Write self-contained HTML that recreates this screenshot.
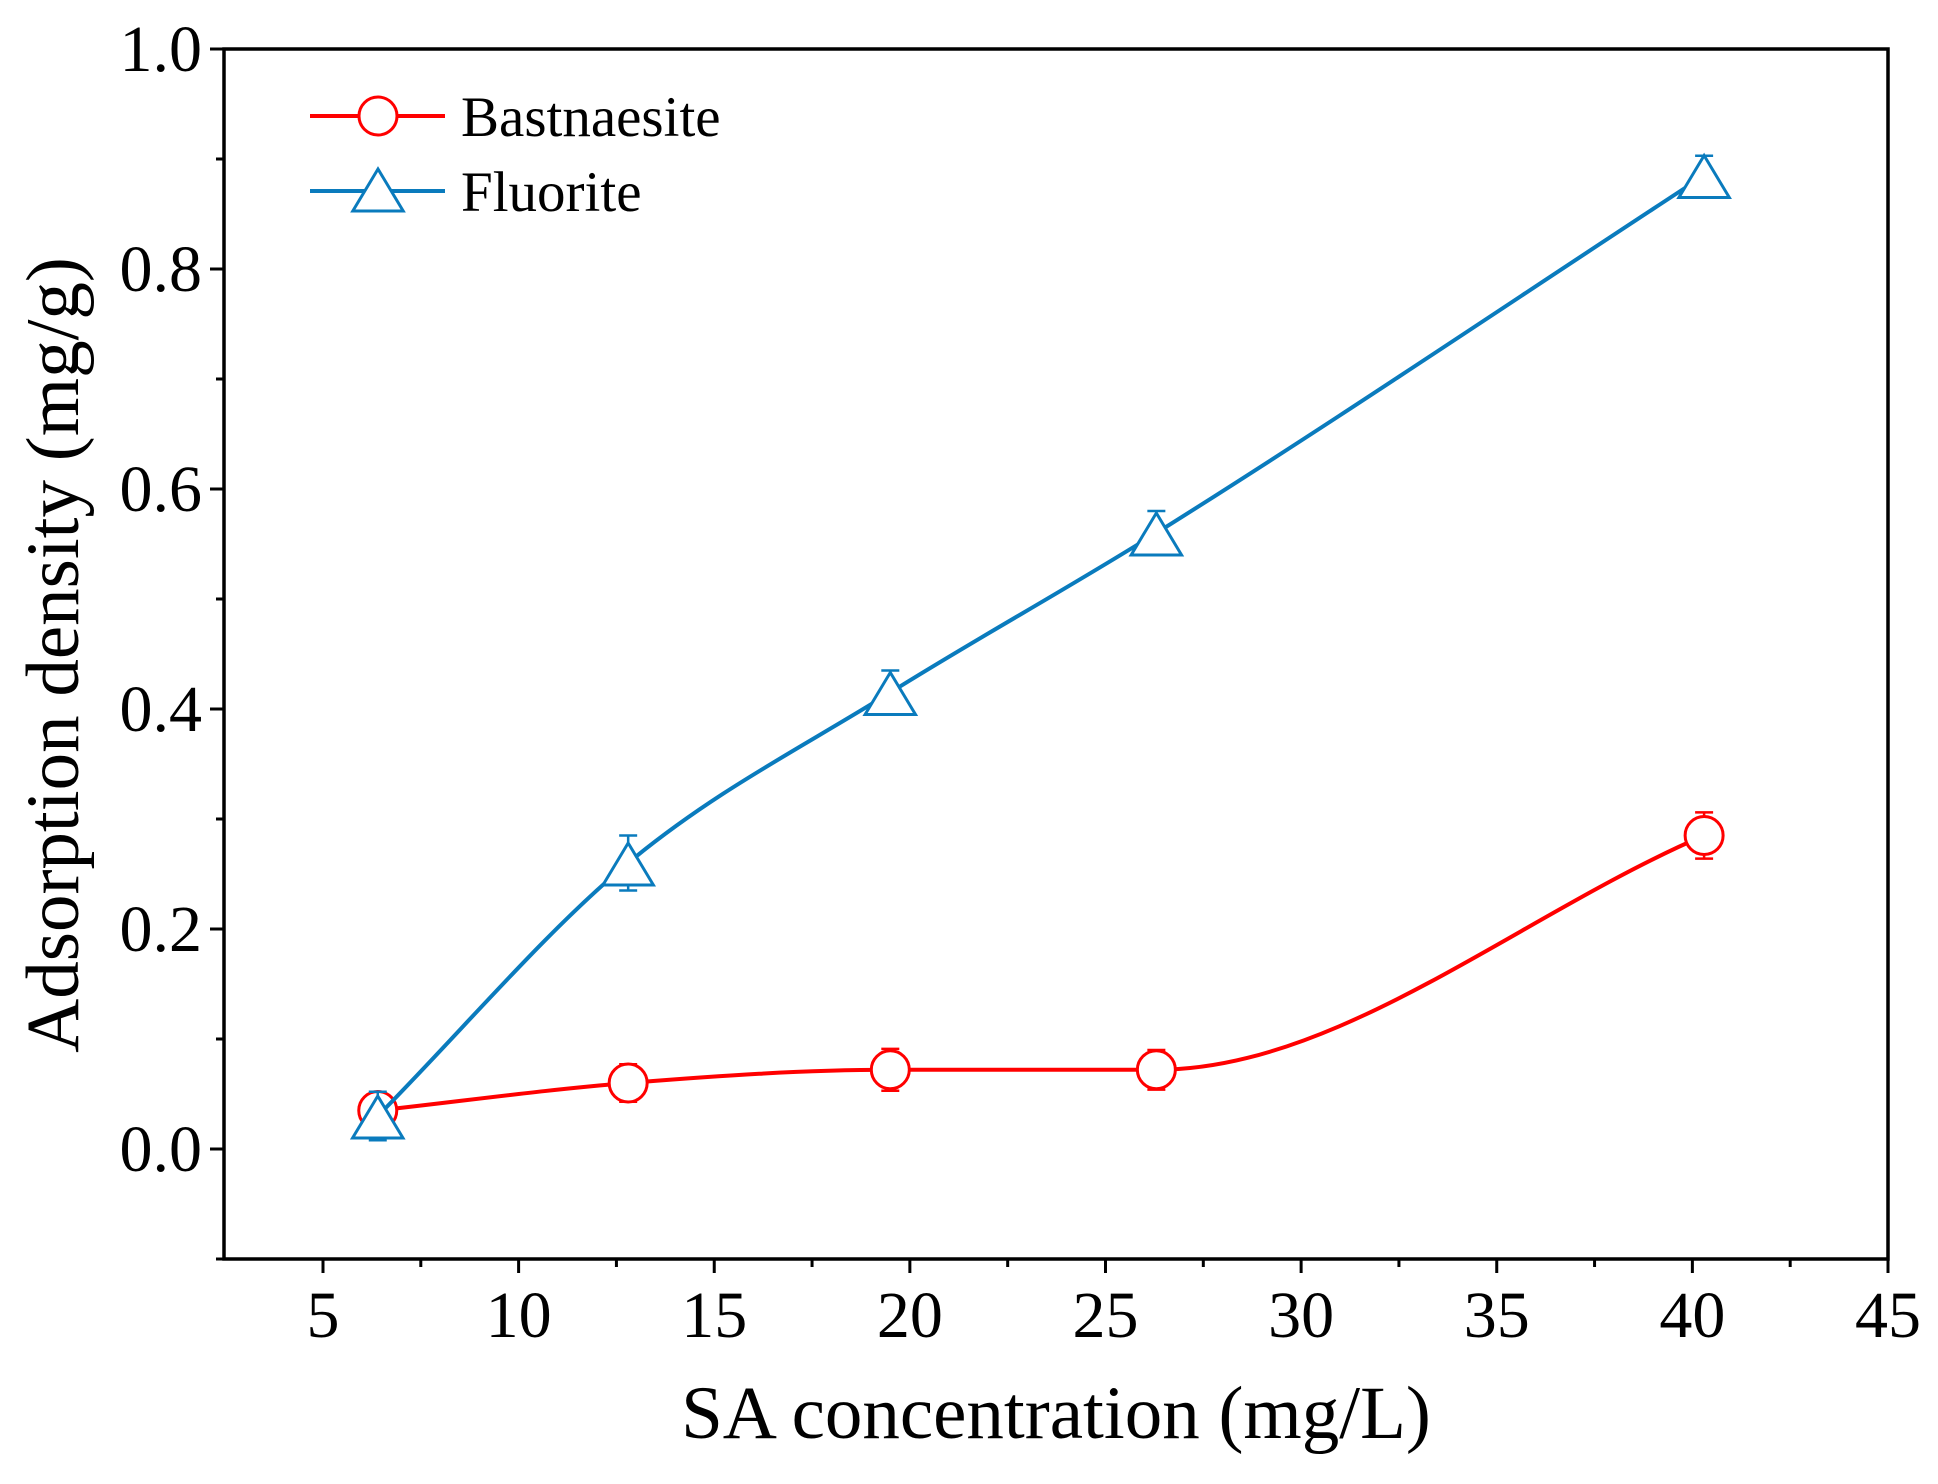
<!DOCTYPE html>
<html><head><meta charset="utf-8"><style>
html,body{margin:0;padding:0;background:#fff}
svg{display:block}
text{font-family:"Liberation Serif",serif;fill:#000}
</style></head><body>
<svg id="chart" width="1938" height="1484" viewBox="0 0 1938 1484" xmlns="http://www.w3.org/2000/svg">
<g id="axes"></g><g id="series"></g><g id="legend"></g>
</svg>
<script>
const xValues=[6.4,12.8,19.5,26.3,40.3];
const bastY=[0.035,0.06,0.072,0.072,0.285];
const bastErr=[0.014,0.017,0.019,0.018,0.021];
const fluoY=[0.03,0.26,0.415,0.56,0.885];
const fluoErr=[0.022,0.025,0.02,0.02,0.018];
const xTicks=[5,10,15,20,25,30,35,40,45];
const yTicks=[0.0,0.2,0.4,0.6,0.8,1.0];
const L=224,R=1888,T=49,B=1259;
const xMin=2.47,xMax=45,yMin=-0.1,yMax=1.0;
function X(v){return L+(v-xMin)/(xMax-xMin)*(R-L);}
function Y(v){return B-(v-yMin)/(yMax-yMin)*(B-T);}
const NS='http://www.w3.org/2000/svg';
function mk(tag,attrs,parent){const e=document.createElementNS(NS,tag);for(const k in attrs)e.setAttribute(k,attrs[k]);parent.appendChild(e);return e;}
const axes=document.getElementById('axes');
const fr=mk('rect',{x:L,y:T,width:R-L,height:B-T,fill:'none',stroke:'#000','stroke-width':3.5},axes);


xTicks.forEach((v,i)=>{
 const t=mk('line',{x1:X(v),x2:X(v),y1:B,y2:B+14,stroke:'#000','stroke-width':3},axes);
 
 
 if(i<xTicks.length-1){const m=mk('line',{x1:X(v+2.5),x2:X(v+2.5),y1:B,y2:B+8,stroke:'#000','stroke-width':3},axes);
 
 }
 const l=mk('text',{x:X(v),y:B+78,'text-anchor':'middle','font-size':66},axes);l.textContent=v;
 
 
});
yTicks.forEach((v,i)=>{
 const t=mk('line',{x1:L-14,x2:L,y1:Y(v),y2:Y(v),stroke:'#000','stroke-width':3},axes);
 
 
 const m=mk('line',{x1:L-8,x2:L,y1:Y(v-0.1),y2:Y(v-0.1),stroke:'#000','stroke-width':3},axes);
 
 
 const l=mk('text',{x:L-22,y:Y(v)+22,'text-anchor':'end','font-size':66},axes);l.textContent=v.toFixed(1);
 
 
});
const xt=mk('text',{x:(L+R)/2,y:1438,'text-anchor':'middle','font-size':75},axes);xt.textContent='SA concentration (mg/L)';


const yt=mk('text',{x:0,y:0,'text-anchor':'middle','font-size':75,transform:`translate(78,655) rotate(-90)`},axes);yt.textContent='Adsorption density (mg/g)';


function monoPath(xs,ys){
 const n=xs.length,dx=[],s=[],m=[];
 for(let i=0;i<n-1;i++){dx[i]=xs[i+1]-xs[i];s[i]=(ys[i+1]-ys[i])/dx[i];}
 m[0]=s[0];m[n-1]=s[n-2];
 for(let i=1;i<n-1;i++){m[i]=(s[i-1]*s[i]<=0)?0:(s[i-1]+s[i])/2;}
 let d=`M${X(xs[0])},${Y(ys[0])}`;
 for(let i=0;i<n-1;i++){const h=dx[i];
  d+=` C${X(xs[i]+h/3)},${Y(ys[i]+m[i]*h/3)} ${X(xs[i+1]-h/3)},${Y(ys[i+1]-m[i+1]*h/3)} ${X(xs[i+1])},${Y(ys[i+1])}`;}
 return d;}
const ser=document.getElementById('series');
function tri(cx,cy,s){return `${cx},${cy-s} ${cx-s*1.05},${cy+s*0.75} ${cx+s*1.05},${cy+s*0.75}`;}
function drawSeries(ys,errs,color,marker,name){
 const p=mk('path',{d:monoPath(xValues,ys),fill:'none',stroke:color,'stroke-width':4},ser);
 
 
 xValues.forEach((x,i)=>{
  const cx=X(x),cy=Y(ys[i]),top=Y(ys[i]+errs[i]),bot=Y(ys[i]-errs[i]);
  const e=mk('path',{d:`M${cx},${top}V${bot}M${cx-9},${top}H${cx+9}M${cx-9},${bot}H${cx+9}`,stroke:color,'stroke-width':2.5,fill:'none'},ser);
  
  
  let m;
  if(marker==='circle')m=mk('circle',{cx,cy,r:19,fill:'#fff',stroke:color,'stroke-width':3},ser);
  else m=mk('polygon',{points:tri(cx,cy+4,24),fill:'#fff',stroke:color,'stroke-width':3},ser);
  
  
 });
}
drawSeries(bastY,bastErr,'#ff0000','circle','bastnaesite');
drawSeries(fluoY,fluoErr,'#0a7bbd','triangle','fluorite');
const lg=document.getElementById('legend');
[['Bastnaesite','#ff0000','circle',116],['Fluorite','#0a7bbd','triangle',191]].forEach(([n,c,m,y])=>{
 const g=mk('g',{},lg);
 
 
 mk('line',{x1:310,x2:445,y1:y,y2:y,stroke:c,'stroke-width':4},g);
 if(m==='circle')mk('circle',{cx:378,cy:y,r:19,fill:'#fff',stroke:c,'stroke-width':3},g);
 else mk('polygon',{points:tri(378,y+2,24),fill:'#fff',stroke:c,'stroke-width':3},g);
 const t=mk('text',{x:461,y:y+20,'font-size':57},g);t.textContent=n;
});
</script>
</body></html>
